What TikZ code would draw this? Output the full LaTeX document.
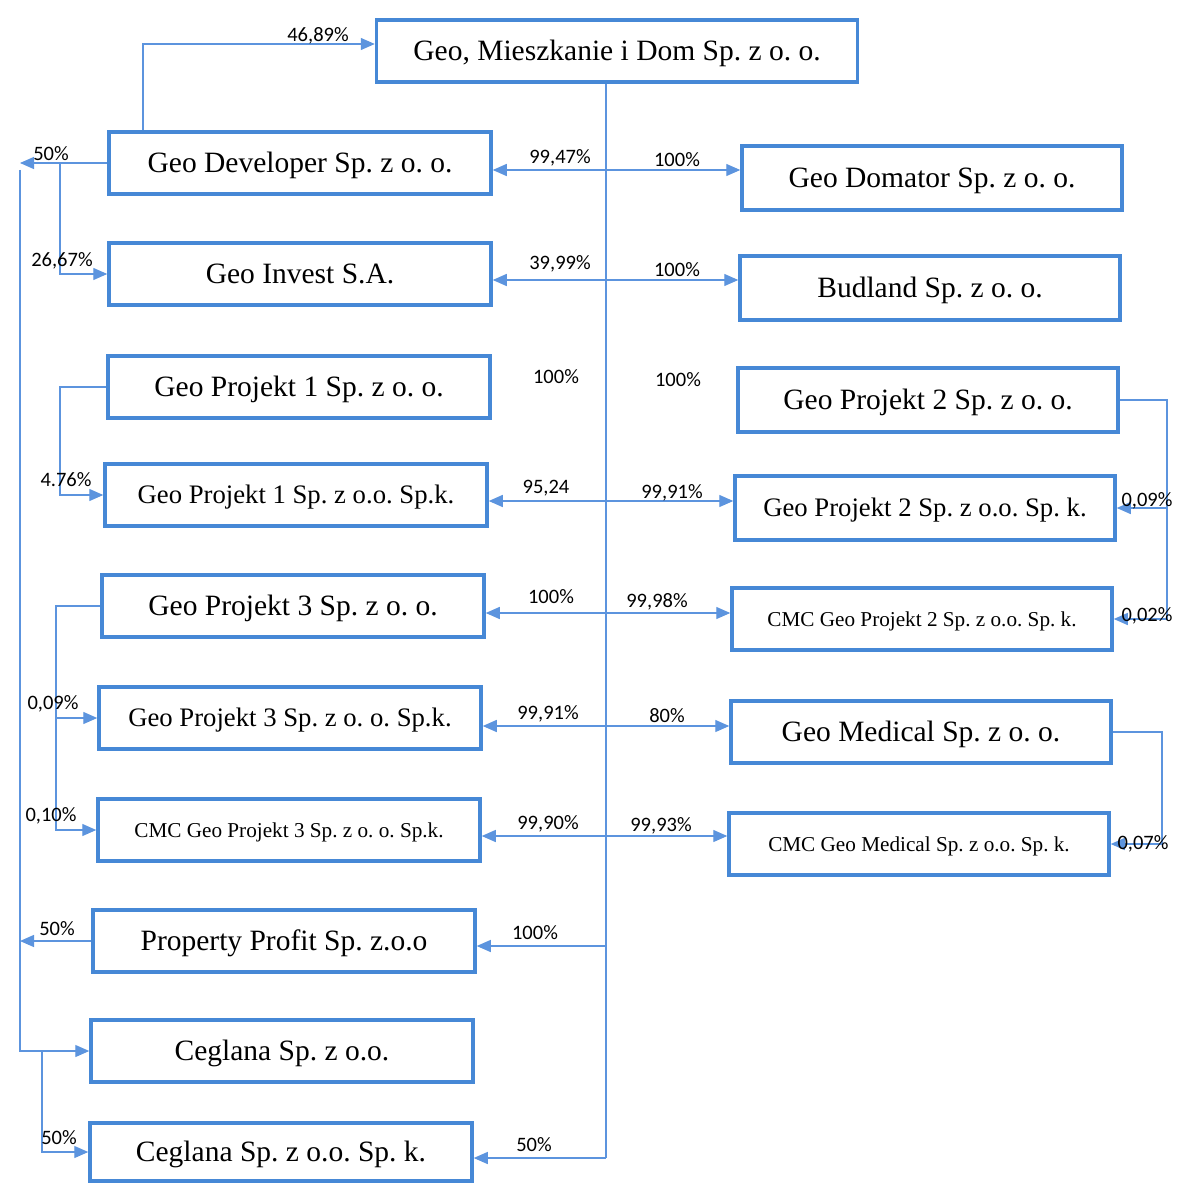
\documentclass[tikz,border=0pt]{standalone}
\usepackage{fontspec}
\setmainfont{Liberation Serif}
\newfontfamily\lblfont{Carlito}
\usetikzlibrary{arrows.meta}
\definecolor{boxblue}{RGB}{70,136,214}
\definecolor{lineblue}{RGB}{92,148,222}
\frenchspacing
\begin{document}
\begin{tikzpicture}[x=1pt,y=-1pt,
  box/.style={draw=boxblue, line width=3.5pt, fill=white, inner sep=0pt,
    minimum width=382pt, minimum height=62pt, text depth=0pt},
  rw/.style={minimum width=380pt},
  fbig/.style={font=\fontsize{29.5}{35}\selectfont, text height=19.5pt},
  fmid/.style={font=\fontsize{26.7}{32}\selectfont, text height=17.7pt},
  fsmall/.style={font=\fontsize{21.2}{25}\selectfont, text height=14pt},
  conn/.style={draw=lineblue, line width=1.3pt},
  arr/.style={conn, -{Triangle[length=14pt,width=12pt]}},
  dbl/.style={conn, {Triangle[length=14pt,width=12pt]}-{Triangle[length=14pt,width=12pt]}},
  lbl/.style={font=\lblfont\fontsize{20.5}{24}\selectfont, inner sep=0pt,
    text height=12.9pt, text depth=0pt, text=black}]

\useasboundingbox (0,0) rectangle (1176,1185);
\fill[white] (0,0) rectangle (1176,1185);

% boxes
\node[box,fbig,minimum width=481pt,minimum height=62pt] (top) at (617,51) {Geo, Mieszkanie i Dom Sp. z o. o.};
\node[box,fbig] (dev) at (300,163) {Geo Developer Sp. z o. o.};
\node[box,fbig,rw,minimum height=64pt] (dom) at (932,178) {Geo Domator Sp. z o. o.};
\node[box,fbig] (inv) at (300,274) {Geo Invest S.A.};
\node[box,fbig,rw,minimum height=64pt] (bud) at (930,288) {Budland Sp. z o. o.};
\node[box,fbig] (p1) at (299,387) {Geo Projekt 1 Sp. z o. o.};
\node[box,fbig,rw,minimum height=64pt] (p2) at (928,400) {Geo Projekt 2 Sp. z o. o.};
\node[box,fmid] (p1k) at (296,495) {Geo Projekt 1 Sp. z o.o. Sp.k.};
\node[box,fmid,rw,minimum height=64pt] (p2k) at (925,508) {Geo Projekt 2 Sp. z o.o. Sp. k.};
\node[box,fbig] (p3) at (293,606) {Geo Projekt 3 Sp. z o. o.};
\node[box,fsmall,rw] (cmcp2) at (922,619) {CMC Geo Projekt 2 Sp. z o.o. Sp. k.};
\node[box,fmid] (p3k) at (290,718) {Geo Projekt 3 Sp. z o. o. Sp.k.};
\node[box,fbig,rw] (med) at (921,732) {Geo Medical Sp. z o. o.};
\node[box,fsmall] (cmc3) at (289,830) {CMC Geo Projekt 3 Sp. z o. o. Sp.k.};
\node[box,fsmall,rw] (cmcmed) at (919,844) {CMC Geo Medical Sp. z o.o. Sp. k.};
\node[box,fbig] (pp) at (284,941) {Property Profit Sp. z.o.o};
\node[box,fbig] (ceg) at (282,1051) {Ceglana Sp. z o.o.};
\node[box,fbig,minimum height=58pt] (cegk) at (281,1152) {Ceglana Sp. z o.o. Sp. k.};

% helper coordinates
\coordinate (tb) at (606,1158);
\coordinate (tpp) at (606,946);
\coordinate (r1) at (606,170);
\coordinate (r2) at (606,280);
\coordinate (r3) at (606,501);
\coordinate (r4) at (606,613);
\coordinate (r5) at (606,726);
\coordinate (r6) at (606,836);
\coordinate (a1) at (143,44);
\coordinate (lvx) at (20,0);
\coordinate (lvtop) at (20,170);
\coordinate (j1) at (60,0);
\coordinate (j2) at (56,0);
\coordinate (j3) at (42,0);
\coordinate (k1) at (1167,0);
\coordinate (k2) at (1162,0);

% trunk
\draw[conn] (top.south -| tb) -- (tb);
\draw[arr] (tb) -- (cegk.east |- tb);
\draw[arr] (tpp) -- (pp.east |- tpp);

% double arrows across the trunk
\draw[dbl] (dev.east |- r1) -- (dom.west |- r1);
\draw[dbl] (inv.east |- r2) -- (bud.west |- r2);
\draw[dbl] (p1k.east |- r3) -- (p2k.west |- r3);
\draw[dbl] (p3.east |- r4) -- (cmcp2.west |- r4);
\draw[dbl] (p3k.east |- r5) -- (med.west |- r5);
\draw[dbl] (cmc3.east |- r6) -- (cmcmed.west |- r6);

% left side
\draw[arr] (dev.north -| a1) -- (a1) -- (top.west |- a1);
\draw[arr] (dev.west) -- (dev.west -| lvx);
\draw[arr] (lvtop) -- (ceg.west -| lvx) -- (ceg.west);
\draw[arr] (pp.west) -- (pp.west -| lvx);
\draw[arr] (dev.west -| j1) -- (inv.west -| j1) -- (inv.west);
\draw[arr] (p1.west) -- (p1.west -| j1) -- (p1k.west -| j1) -- (p1k.west);
\draw[arr] (p3.west) -- (p3.west -| j2) -- (p3k.west -| j2) -- (p3k.west);
\draw[arr] (p3k.west -| j2) -- (cmc3.west -| j2) -- (cmc3.west);
\draw[arr] (ceg.west -| j3) -- (cegk.west -| j3) -- (cegk.west);

% right side
\draw[arr] (p2.east) -- (p2.east -| k1) -- (p2k.east -| k1) -- (p2k.east);
\draw[arr] (p2k.east -| k1) -- (cmcp2.east -| k1) -- (cmcp2.east);
\draw[arr] (med.east) -- (med.east -| k2) -- (cmcmed.east -| k2) -- (cmcmed.east);

% labels
\node[lbl] (l1) at (318,35) {46,89\%};
\node[lbl] (l2) at (560,157) {99,47\%};
\node[lbl] (l3) at (677,160) {100\%};
\node[lbl] (l4) at (560,263) {39,99\%};
\node[lbl] (l5) at (677,270) {100\%};
\node[lbl] (l6) at (556,377) {100\%};
\node[lbl] (l7) at (678,380) {100\%};
\node[lbl] (l8) at (546,487) {95,24};
\node[lbl] (l9) at (672,492) {99,91\%};
\node[lbl] (l10) at (551,597) {100\%};
\node[lbl] (l11) at (657,601) {99,98\%};
\node[lbl] (l12) at (548,713) {99,91\%};
\node[lbl] (l13) at (667,716) {80\%};
\node[lbl] (l14) at (548,823) {99,90\%};
\node[lbl] (l15) at (661,825) {99,93\%};
\node[lbl] (l16) at (535,933) {100\%};
\node[lbl] (l17) at (534,1145) {50\%};
\node[lbl] (l18) at (51,154) {50\%};
\node[lbl] (l19) at (62,260) {26,67\%};
\node[lbl] (l20) at (66,480) {4.76\%};
\node[lbl] (l21) at (53,703) {0,09\%};
\node[lbl] (l22) at (51,815) {0,10\%};
\node[lbl] (l23) at (57,929) {50\%};
\node[lbl] (l24) at (59,1138) {50\%};
\node[lbl] (l25) at (1147,500) {0,09\%};
\node[lbl] (l26) at (1147,615) {0,02\%};
\node[lbl] (l27) at (1143,843) {0,07\%};
\end{tikzpicture}
\end{document}
